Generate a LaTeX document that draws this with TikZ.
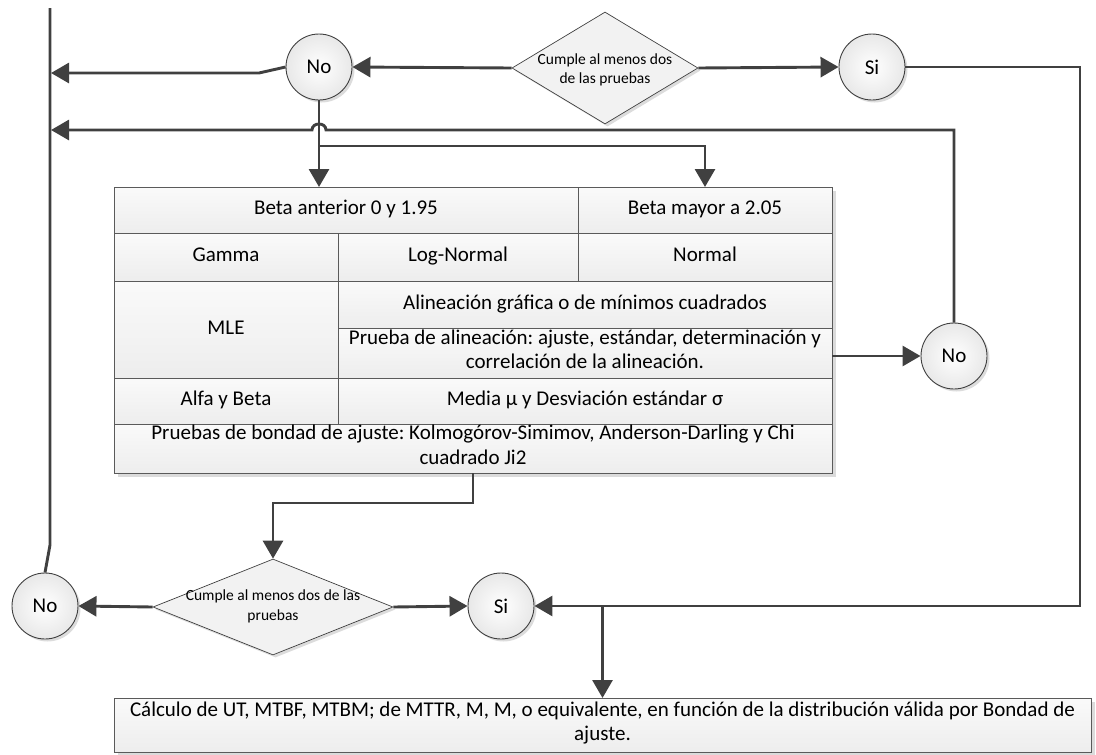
\documentclass[tikz,border=0pt]{standalone}
\usepackage{fontspec}
\setmainfont{Carlito}
\usetikzlibrary{arrows.meta,shapes.geometric,shadows}
\definecolor{ln}{HTML}{404040}
\definecolor{edge}{HTML}{5A5A5A}
\frenchspacing

\begin{document}
\begin{tikzpicture}[x=1pt,y=-1pt,
  conn/.style={draw=ln, line width=2.9pt},
  arr/.style={conn, -{Triangle[length=18pt,width=20pt]}},
  softshadow/.style={drop shadow={shadow xshift=2.5pt, shadow yshift=-2.5pt, fill=black!30, opacity=0.45}},
  tcell/.style={draw=edge, line width=0.8pt, top color=black!2, bottom color=black!7,
    anchor=north west, inner sep=0pt, outer sep=0pt, align=center,
    font=\fontsize{21}{24.5}\selectfont,
    execute at begin node=\strut, execute at end node=\strut},
  endpt/.style={circle, draw=ln, line width=0.9pt, minimum size=66pt, inner sep=0pt,
    inner color=white, outer color=black!9, softshadow,
    font=\fontsize{21}{24}\selectfont},
  test/.style={diamond, draw=ln, line width=0.7pt, fill=black!5, inner sep=0pt, softshadow},
  testtext/.style={align=center, inner sep=0pt, font=\fontsize{15.5}{19.5}\selectfont},
]
\useasboundingbox (0,0) rectangle (1096,755);

% decision shapes and end points
\node[test, minimum width=186pt, minimum height=112pt] (d1) at (605,68) {};
\node[testtext] at (605,70) {Cumple al menos dos\\de las pruebas};
\node[endpt] (no1) at (319,67) {No};
\node[endpt] (si1) at (872,67) {Si};
\node[endpt] (no3) at (954,356) {No};

% table of distributions
\fill[black!14] (118,191) rectangle (836,477);
\node[tcell, minimum width=464pt, minimum height=46pt] (c11) at (114,187) {Beta anterior 0 y 1.95};
\node[tcell, minimum width=254pt, minimum height=46pt] (c12) at (578,187) {Beta mayor a 2.05};
\node[tcell, minimum width=224pt, minimum height=48pt] (c21) at (114,233) {Gamma};
\node[tcell, minimum width=240pt, minimum height=48pt] (c22) at (338,233) {Log-Normal};
\node[tcell, minimum width=254pt, minimum height=48pt] (c23) at (578,233) {Normal};
\node[tcell, minimum width=224pt, minimum height=97pt] (c31) at (114,281) {MLE};
\node[tcell, minimum width=494pt, minimum height=47pt] (c32) at (338,281) {Alineación gráfica o de mínimos cuadrados};
\node[tcell, minimum width=494pt, minimum height=50pt] (c33) at (338,328) {Prueba de alineación: ajuste, estándar, determinación y\\correlación de la alineación.};
\node[tcell, minimum width=224pt, minimum height=46pt] (c41) at (114,378) {Alfa y Beta};
\node[tcell, minimum width=494pt, minimum height=46pt] (c42) at (338,378) {Media µ y Desviación estándar σ};
\node[tcell, minimum width=718pt, minimum height=49pt] (c51) at (114,424) {Pruebas de bondad de ajuste: Kolmogórov-Simimov, Anderson-Darling y Chi\\cuadrado Ji2};

% second decision
\node[test, minimum width=240pt, minimum height=96pt] (d2) at (273,607) {};
\node[testtext] at (273,606.5) {Cumple al menos dos de las\\pruebas};
\node[endpt] (no4) at (45,606) {No};
\node[endpt] (si2) at (501,606) {Si};

% result box
\fill[black!14] (118,702) rectangle (1095,755);
\node[tcell, minimum width=977pt, minimum height=54pt] (box) at (114,698)
  {Cálculo de UT, MTBF, MTBM; de MTTR, M, M, o equivalente, en función de la distribución válida por Bondad de\\ajuste.};

% rails and junctions
\coordinate (top) at (50,8);
\coordinate (railR) at (1080,0);
\coordinate (split) at (319,146);

% connectors
\draw[arr] (d1.west) -- (no1.east);
\draw[arr] (d1.east) -- (si1.west);
\draw[arr] (si1.east) -- (si1.east -| railR) -- (si2.east -| railR) -- (si2.east);
\draw[arr] (no1.west) -- (259,73) -- (51,73);
\draw[arr] (no1.south) -- (no1.south |- c11.north);
\draw[arr] (split) -| (c12.north);
\draw[arr] (no3.north) -- (954,130) -- (326,130)
  .. controls (326,122) and (312,122) .. (312,130) -- (51,130);
\draw[arr] (no3.west -| c33.east) -- (no3.west);
\draw[arr] (c51.south) -- ++(0,30) -| (d2.north);
\draw[arr] (d2.west) -- (no4.east);
\draw[arr] (d2.east) -- (si2.west);
\draw[conn] (no4.north) -- (50,545) -- (top);
\draw[arr] (box.north |- si2.east) -- (box.north);
\end{tikzpicture}
\end{document}
